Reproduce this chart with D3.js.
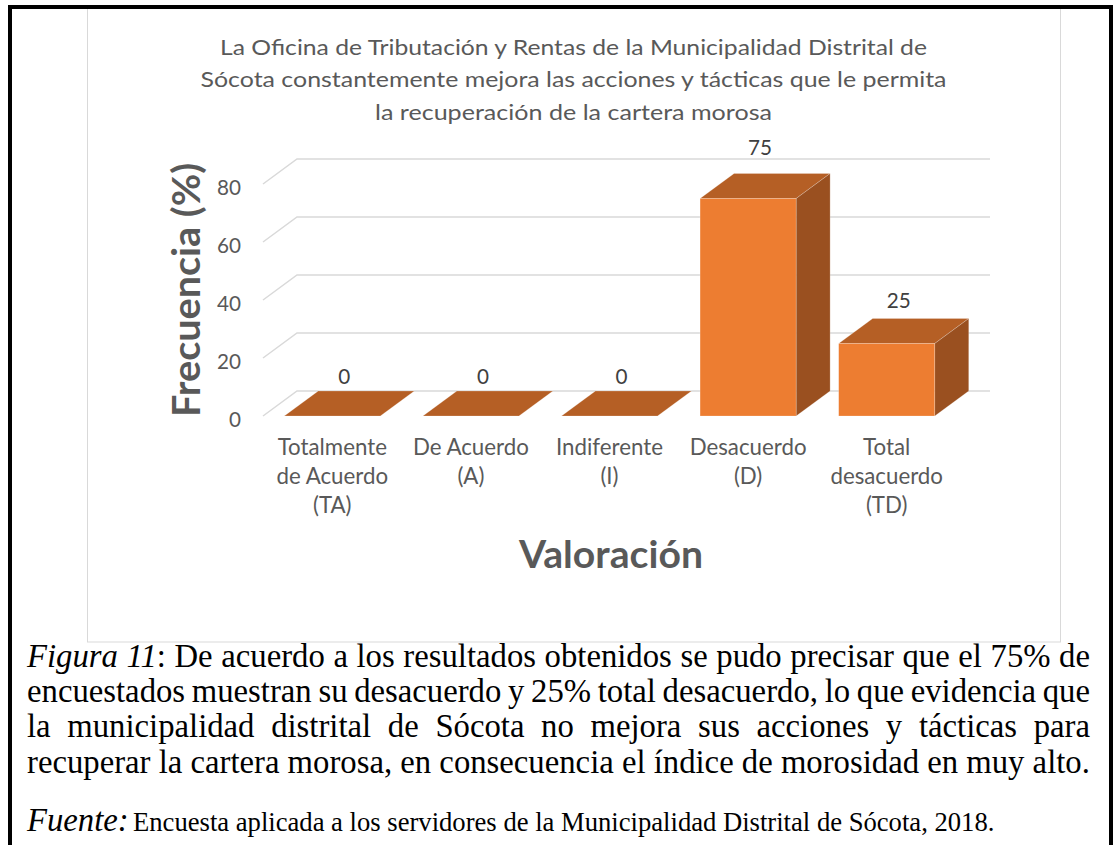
<!DOCTYPE html>
<html><head><meta charset="utf-8">
<script src="https://cdn.jsdelivr.net/npm/d3@7"></script>
<style>body{margin:0;background:#fff} svg{display:block}</style>
</head><body>
<svg id="c" width="1115" height="845"></svg>
<script>
// ---------- data ----------
const titleLines = [
  "La Oficina de Tributación y Rentas de la Municipalidad Distrital de",
  "Sócota constantemente mejora las acciones y tácticas que le permita",
  "la recuperación de la cartera morosa"
];
const categories = ["TA", "A", "I", "D", "TD"];
const categoryLabels = [
  ["Totalmente", "de Acuerdo", "(TA)"],
  ["De Acuerdo", "(A)"],
  ["Indiferente", "(I)"],
  ["Desacuerdo", "(D)"],
  ["Total", "desacuerdo", "(TD)"]
];
const values = [0, 0, 0, 75, 25];
const yTicks = [0, 20, 40, 60, 80];
const yTitle = "Frecuencia (%)";
const xTitle = "Valoración";
const captionItalic = "Figura 11";
const captionLines = [
  ": De acuerdo a los resultados obtenidos se pudo precisar que el 75% de",
  "encuestados muestran su desacuerdo y 25% total desacuerdo, lo que evidencia que",
  "la municipalidad distrital de Sócota no mejora sus acciones y tácticas para",
  "recuperar la cartera morosa, en consecuencia el índice de morosidad en muy alto."
];
const sourceLabel = "Fuente:";
const sourceText = "Encuesta aplicada a los servidores de la Municipalidad Distrital de Sócota, 2018.";

// ---------- layout ----------
const svg = d3.select("#c");
const SANS = "Lato, 'Open Sans', sans-serif";
const SERIF = "'Liberation Serif', 'Times New Roman', serif";
const gray = "#595959";
const dx = 34, dy = -25;

svg.append("rect").attr("width", 1115).attr("height", 845).attr("fill", "#fff");
// chart area frame
svg.append("rect").attr("x", 87.5).attr("y", 8).attr("width", 973).attr("height", 634)
  .attr("fill", "#fff").attr("stroke", "#d9d9d9").attr("stroke-width", 1);

const x = d3.scaleBand().domain(categories).range([263, 956]).paddingInner(0.307).paddingOuter(0.1535);
const y = d3.scaleLinear().domain([0, 80]).range([416, 184]);
const bw = x.bandwidth();

function condense(sel, k) {
  sel.each(function () {
    const w = this.getComputedTextLength();
    d3.select(this).attr("textLength", w * k).attr("lengthAdjust", "spacingAndGlyphs");
  });
}
function fitTo(sel, target) {
  sel.attr("textLength", target).attr("lengthAdjust", "spacingAndGlyphs");
}

// title
const tt = svg.append("g").attr("font-family", SANS).attr("font-size", 22).attr("fill", gray).attr("text-anchor", "middle");
const titleW = [707, 746, 397];
titleLines.forEach((t, i) => {
  const el = tt.append("text").attr("x", 573.5).attr("y", 55 + i * 32.3).text(t);
  fitTo(el, titleW[i]);
});

// gridlines (floor-left diagonal + back wall)
const xL = x.range()[0], xR = x.range()[1] + dx;
svg.append("g").selectAll("path").data(yTicks).join("path")
  .attr("d", v => `M${xL},${y(v)}L${xL + dx},${y(v) + dy}L${xR},${y(v) + dy}`)
  .attr("fill", "none").attr("stroke", "#d9d9d9").attr("stroke-width", 1.5);

// y tick labels
const ya = svg.append("g").attr("transform", "translate(241,0)")
  .call(d3.axisLeft(y).tickValues(yTicks).tickSize(0).tickPadding(0));
ya.select(".domain").remove();
const tickText = ya.selectAll("text").attr("font-family", SANS).attr("font-size", 22)
  .attr("fill", gray).attr("dy", "0.47em");
condense(tickText, 0.94);

// bars
const cFront = "#ED7D31", cTop = "#B55F25", cSide = "#9A5020";
const bars = svg.append("g").selectAll("g").data(categories).join("g");
bars.each(function (c, i) {
  const g = d3.select(this);
  const x0 = x(c), x1 = x(c) + bw, yt = y(values[i]), yb = y(0);
  g.append("path").attr("d", `M${x0},${yt}L${x1},${yt}L${x1 + dx},${yt + dy}L${x0 + dx},${yt + dy}Z`)
    .attr("fill", cTop).attr("stroke", "rgba(255,255,255,0.35)").attr("stroke-width", 0.6);
  if (values[i] > 0) {
    g.append("path").attr("d", `M${x1},${yt}L${x1 + dx},${yt + dy}L${x1 + dx},${yb + dy}L${x1},${yb}Z`)
      .attr("fill", cSide).attr("stroke", "rgba(255,255,255,0.35)").attr("stroke-width", 0.6);
    g.append("rect").attr("x", x0).attr("y", yt).attr("width", bw).attr("height", yb - yt)
      .attr("fill", cFront).attr("stroke", "rgba(255,255,255,0.35)").attr("stroke-width", 0.6);
  }
});

// data labels
const dl = svg.append("g").selectAll("text").data(categories).join("text")
  .attr("x", c => x(c) + bw / 2 + 12)
  .attr("y", (c, i) => y(values[i]) - 32 - 0.055 * (y(0) - y(values[i])))
  .attr("text-anchor", "middle").attr("font-family", SANS).attr("font-size", 22).attr("fill", "#404040")
  .text((c, i) => values[i]);
condense(dl, 0.94);

// category labels
const cl = svg.append("g").attr("font-family", SANS).attr("font-size", 22.5).attr("fill", gray).attr("text-anchor", "middle");
categories.forEach((c, i) => {
  categoryLabels[i].forEach((line, j) => {
    const el = cl.append("text").attr("x", x(c) + bw / 2).attr("y", 455 + j * 29).text(line);
    condense(el, 0.99);
  });
});

// axis titles
const xt = svg.append("text").attr("x", 611).attr("y", 568).attr("text-anchor", "middle")
  .attr("font-family", SANS).attr("font-weight", 700).attr("font-size", 38).attr("fill", gray).text(xTitle);
fitTo(xt, 184);
const ytl = svg.append("text").attr("transform", "translate(200,290) rotate(-90)").attr("text-anchor", "middle")
  .attr("font-family", SANS).attr("font-weight", 700).attr("font-size", 39).attr("fill", gray).text(yTitle);
fitTo(ytl, 254);

// caption
const cap = svg.append("g").attr("font-family", SERIF).attr("fill", "#000");
const base = 30;
const probe = cap.append("text").attr("font-size", base).text(captionLines[3]);
const capSize = base * 1063 / probe.node().getComputedTextLength();
probe.remove();
const capY = [667, 702, 737, 773];
captionLines.forEach((line, i) => {
  const t = cap.append("text").attr("x", 27).attr("y", capY[i]).attr("font-size", capSize);
  if (i === 0) t.append("tspan").attr("font-style", "italic").text(captionItalic);
  t.append("tspan").text(line);
  if (i < 3) {
    const w = t.node().getComputedTextLength();
    const full = (i === 0 ? captionItalic : "") + line;
    const n = (full.match(/ /g) || []).length;
    t.attr("word-spacing", (1063 - w) / n);
  }
});
const fl = cap.append("text").attr("x", 27).attr("y", 831).attr("font-size", capSize).attr("font-style", "italic").text(sourceLabel);
const st = cap.append("text").attr("x", 133).attr("y", 831).attr("font-size", 22).text(sourceText);
const sw = st.node().getComputedTextLength();
st.attr("font-size", 22 * 862 / sw);

// outer black frame
svg.append("rect").attr("x", 10).attr("y", 7).attr("width", 1101).attr("height", 900)
  .attr("fill", "none").attr("stroke", "#000").attr("stroke-width", 4);
</script>
</body></html>
